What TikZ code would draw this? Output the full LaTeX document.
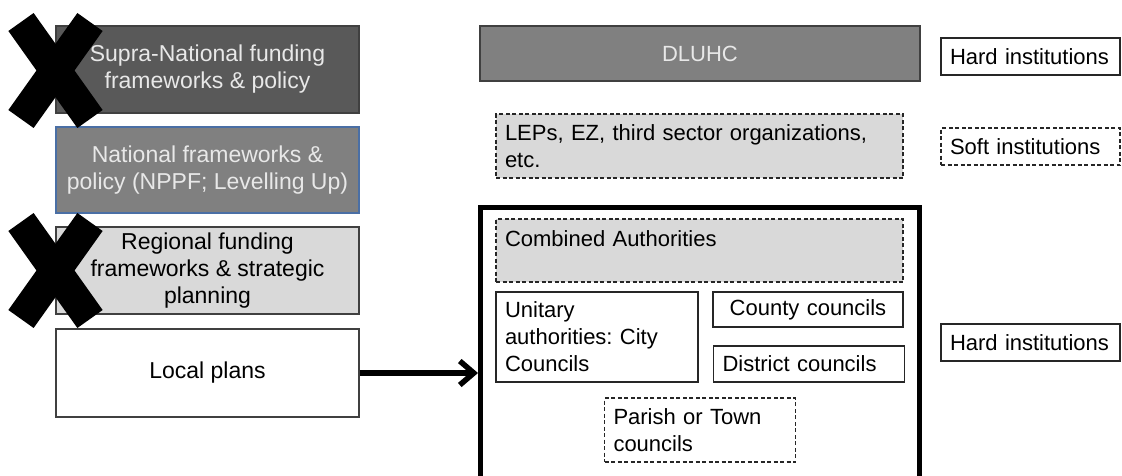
\documentclass[tikz,border=0pt]{standalone}
\usepackage{fontspec}
\setmainfont{Liberation Sans}
\usetikzlibrary{arrows.meta}
\frenchspacing

\definecolor{darkfill}{HTML}{595959}
\definecolor{midfill}{HTML}{808080}
\definecolor{lightfill}{HTML}{D9D9D9}
\definecolor{edgegray}{HTML}{404040}
\definecolor{natedge}{HTML}{4A6FA5}
\definecolor{paletext}{HTML}{E8E8E8}

\tikzset{
  txt/.style={font=\fontsize{22}{27}\selectfont},
  block/.style={rectangle, draw=edgegray, line width=1.4pt, inner sep=0pt, align=center, font=\fontsize{23}{27}\selectfont},
  plainbox/.style={txt, rectangle, draw=black!85, line width=1.4pt, inner xsep=9pt, inner ysep=0pt, align=left},
  softbox/.style={plainbox, dash pattern=on 4pt off 2.5pt},
  cross/.style={line width=31pt, line cap=butt},
  linkarrow/.style={line width=5.5pt, -{Straight Barb[length=14pt, width=24pt]}}
}

\begin{document}
\begin{tikzpicture}[x=1pt, y=-1pt]
	\path[use as bounding box] (0,0) rectangle (1122,475);

	% left column
	\node[block, fill=darkfill, text=paletext, minimum width=303pt, minimum height=87pt] (supra) at (207.5,69.5) {Supra-National funding\\frameworks \& policy};
	\node[block, fill=midfill, draw=natedge, text=paletext, minimum width=303pt, minimum height=86pt] (natl) at (207.5,170) {National frameworks \&\\policy (NPPF; Levelling Up)};
	\node[block, fill=lightfill, minimum width=303pt, minimum height=87pt] (region) at (207.5,270.5) {Regional funding\\frameworks \& strategic\\planning};
	\node[block, fill=white, minimum width=303pt, minimum height=88pt] (local) at (207.5,373) {Local plans};

	% crossed out levels
	\foreach \dy in {0, 200} {
		\draw[cross] (21,22+\dy) -- (90,119+\dy);
		\draw[cross] (90,22+\dy) -- (21,119+\dy);
	}

	% right column
	\node[block, txt, fill=midfill, text=paletext, minimum width=440pt, minimum height=55pt] (dluhc) at (700,53.5) {DLUHC};
	\node[softbox, fill=lightfill, minimum height=64pt, text width=389pt] (leps) at (699.5,146) {LEPs, EZ, third sector organizations,\\etc.};

	\node[rectangle, draw=black, line width=5pt, minimum width=438.5pt, minimum height=292.5pt] (local gov) at (699.75,353.75) {};
	\node[softbox, fill=lightfill, minimum height=63pt, text width=389pt] (combined) at (699.5,250.5) {Combined Authorities\\[-12pt]\strut};
	\node[plainbox, minimum height=90pt, text width=184pt] (unitary) at (597,337) {Unitary\\authorities: City\\Councils};
	\node[plainbox, minimum height=35pt, text width=172pt, align=center] (county) at (808,309.5) {County councils};
	\node[plainbox, minimum height=36pt, text width=173pt] (district) at (809,364) {District councils};
	\node[softbox, minimum height=64pt, text width=173pt] (parish) at (700,430) {Parish or Town\\councils};

	% institution tags
	\node[plainbox, minimum height=37pt, text width=161pt] (hard top) at (1030.5,56.5) {Hard institutions};
	\node[softbox, minimum height=37pt, text width=161pt] (soft) at (1030.5,146.5) {Soft institutions};
	\node[plainbox, minimum height=37pt, text width=161pt] (hard low) at (1030.5,342.5) {Hard institutions};

	% arrow
	\draw[linkarrow] (local.east) -- (local.east -| local gov.west);
\end{tikzpicture}
\end{document}
